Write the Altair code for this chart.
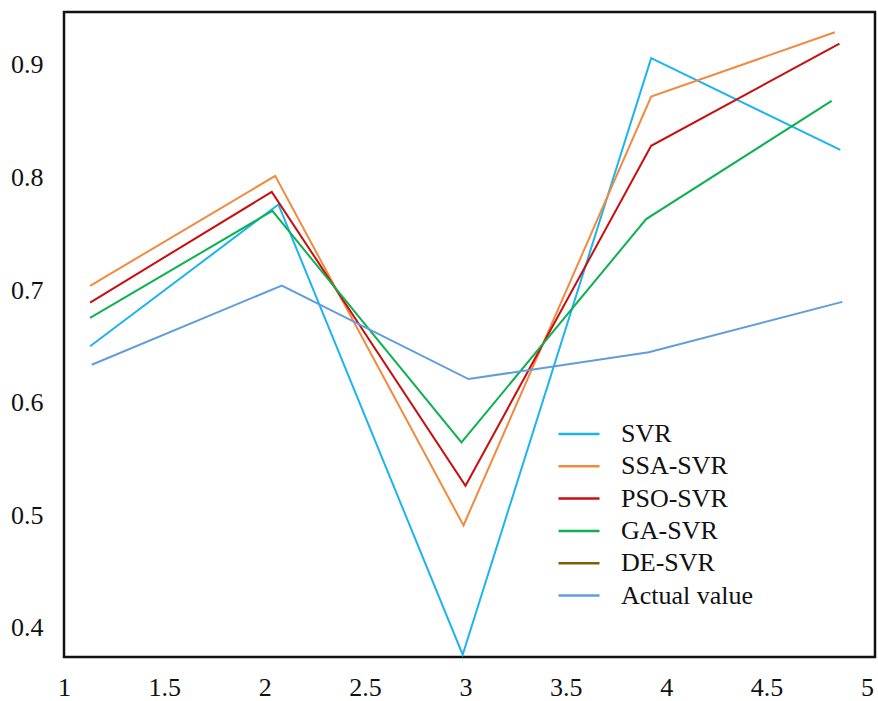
import altair as alt
import pandas as pd

series_names = ["SVR", "SSA-SVR", "PSO-SVR", "GA-SVR", "DE-SVR", "Actual value"]
series_colors = ["#1cb4f0", "#f28a3e", "#c80f0f", "#0db150", "#7f6000", "#5f9edb"]

# x positions (per series)
svr_x = [1.13, 2.068, 2.986, 3.925, 4.867]
svr_y = [0.650, 0.776, 0.376, 0.906, 0.8245]
ssa_x = [1.13, 2.052, 2.99, 3.925, 4.84]
ssa_y = [0.7037, 0.8014, 0.4909, 0.8718, 0.929]
pso_x = [1.13, 2.035, 3.0, 3.925, 4.863]
pso_y = [0.6889, 0.7872, 0.5261, 0.8281, 0.9189]
ga_x = [1.13, 2.038, 2.98, 3.90, 4.824]
ga_y = [0.6753, 0.7703, 0.5646, 0.763, 0.868]
actual_x = [1.138, 2.085, 3.015, 3.913, 4.877]
actual_y = [0.6336, 0.704, 0.6209, 0.6448, 0.6895]

x_ticks = [1, 1.5, 2, 2.5, 3, 3.5, 4, 4.5, 5]
y_ticks = [0.4, 0.5, 0.6, 0.7, 0.8, 0.9]

rows = []
for name, xs, ys in [("SVR", svr_x, svr_y), ("SSA-SVR", ssa_x, ssa_y),
                     ("PSO-SVR", pso_x, pso_y), ("GA-SVR", ga_x, ga_y),
                     ("Actual value", actual_x, actual_y)]:
    for i, (xv, yv) in enumerate(zip(xs, ys)):
        rows.append({"series": name, "x": xv, "y": yv, "idx": i})
df = pd.DataFrame(rows)

FONT = "Liberation Serif, Times New Roman, serif"

chart = alt.Chart(df).mark_line(strokeWidth=2, clip=True).encode(
    x=alt.X("x:Q",
            scale=alt.Scale(domain=[1, 5.04], nice=False, zero=False),
            axis=alt.Axis(values=x_ticks, format="~g", title=None, grid=False,
                          ticks=False, domain=False, labelFlush=False,
                          labelOverlap=False, labelPadding=17,
                          labelFont=FONT, labelFontSize=26, labelColor="#111")),
    y=alt.Y("y:Q",
            scale=alt.Scale(domain=[0.374, 0.947], nice=False, zero=False),
            axis=alt.Axis(values=y_ticks, format="~g", title=None, grid=False,
                          ticks=False, domain=False, labelFlush=False,
                          labelOverlap=False, labelPadding=21,
                          labelFont=FONT, labelFontSize=26, labelColor="#111")),
    color=alt.Color("series:N",
                    scale=alt.Scale(domain=series_names, range=series_colors),
                    legend=alt.Legend(title=None, orient="none", legendX=493, legendY=406,
                                      symbolType="stroke", symbolSize=1681,
                                      symbolStrokeWidth=2.5, labelFont=FONT,
                                      labelFontSize=26, labelColor="#111",
                                      labelOffset=20, rowPadding=0.3, clipHeight=32)),
    detail="series:N",
    order="idx:Q",
).properties(
    width=811, height=645,
    autosize=alt.AutoSizeParams(type="none"),
    padding={"left": 64, "top": 12, "right": 3, "bottom": 44},
).configure(
    background="white", font=FONT
).configure_view(
    stroke="#111", strokeWidth=2.5
)

chart.save("out.html", embed_options={"renderer": "svg", "actions": False})
